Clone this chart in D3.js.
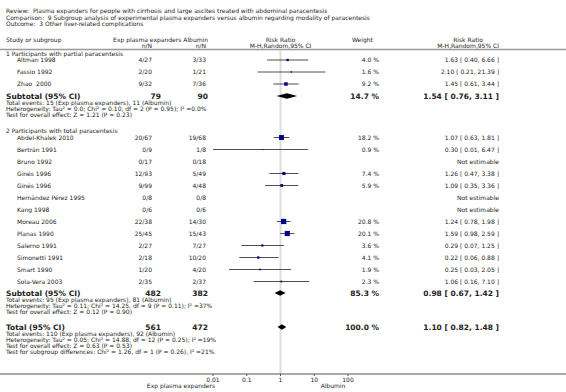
<!DOCTYPE html>
<html>
<head>
<meta charset="utf-8">
<script src="https://cdn.jsdelivr.net/npm/d3@7"></script>
<style>
  body { margin: 0; background: #fff; }
  text { font-family: "DejaVu Sans", Verdana, sans-serif; fill: #222; white-space: pre; }
</style>
</head>
<body>
<div id="chart"></div>
<script>
// Header lines
const titleLines = [
  "Review:  Plasma expanders for people with cirrhosis and large ascites treated with abdominal paracentesis",
  "Comparison:  9 Subgroup analysis of experimental plasma expanders versus albumin regarding modality of paracentesis",
  "Outcome:  3 Other liver-related complications"
];

// Subgroup 1 studies
const g1Names = ["Altman 1998", "Fassio 1992", "Zhao  2000"];
const g1Exp = ["4/27", "2/20", "9/32"];
const g1Alb = ["3/33", "1/21", "7/36"];
const g1Weight = [4.0, 1.6, 9.2];
const g1RR = [[1.63, 0.40, 6.66], [2.10, 0.21, 21.39], [1.45, 0.61, 3.44]];

// Subgroup 2 studies
const g2Names = ["Abdel-Khalek 2010", "Bertrán 1991", "Bruno 1992", "Ginés 1996", "Ginés 1996",
  "Hernández Pérez 1995", "Kang 1998", "Moreau 2006", "Planas 1990", "Salerno 1991",
  "Simonetti 1991", "Smart 1990", "Sola-Vera 2003"];
const g2Exp = ["20/67", "0/9", "0/17", "12/93", "9/99", "0/8", "0/6", "22/38", "25/45", "2/27", "2/18", "1/20", "2/35"];
const g2Alb = ["19/68", "1/8", "0/18", "5/49", "4/48", "0/8", "0/6", "14/30", "15/43", "7/27", "10/20", "4/20", "2/37"];
const g2Weight = [18.2, 0.9, null, 7.4, 5.9, null, null, 20.8, 20.1, 3.6, 4.1, 1.9, 2.3];
const g2RR = [[1.07, 0.63, 1.81], [0.30, 0.01, 6.47], null, [1.26, 0.47, 3.38], [1.09, 0.35, 3.36],
  null, null, [1.24, 0.78, 1.98], [1.59, 0.98, 2.59], [0.29, 0.07, 1.25], [0.22, 0.06, 0.88],
  [0.25, 0.03, 2.05], [1.06, 0.16, 7.10]];

// Pooled results: [label, exp N, alb N, weight, rr, lo, hi]
const subtotal1 = ["Subtotal (95% CI)", 79, 90, 14.7, 1.54, 0.76, 3.11];
const subtotal2 = ["Subtotal (95% CI)", 482, 382, 85.3, 0.98, 0.67, 1.42];
const total = ["Total (95% CI)", 561, 472, 100.0, 1.10, 0.82, 1.48];

const notes1 = [
  "Total events: 15 (Exp plasma expanders), 11 (Albumin)",
  "Heterogeneity: Tau² = 0.0; Chi² = 0.10, df = 2 (P = 0.95); I² =0.0%",
  "Test for overall effect: Z = 1.21 (P = 0.23)"
];
const notes2 = [
  "Total events: 95 (Exp plasma expanders), 81 (Albumin)",
  "Heterogeneity: Tau² = 0.11; Chi² = 14.25, df = 9 (P = 0.11); I² =37%",
  "Test for overall effect: Z = 0.12 (P = 0.90)"
];
const notesT = [
  "Total events: 110 (Exp plasma expanders), 92 (Albumin)",
  "Heterogeneity: Tau² = 0.05; Chi² = 14.88, df = 12 (P = 0.25); I² =19%",
  "Test for overall effect: Z = 0.63 (P = 0.53)",
  "Test for subgroup differences: Chi² = 1.26, df = 1 (P = 0.26), I² =21%"
];

const tickValues = [0.01, 0.1, 1, 10, 100];
const tickLabels = ["0.01", "0.1", "1", "10", "100"];

const W = 566, H = 392;
const fs = 6, fsB = 7.5;
const xL = 6, xName = 17, xExp = 152, xAlb = 206, xExpB = 161, xAlbB = 208;
const xW = 379, xRR = 499;
const rowH = 12, noteH = 6;

const svg = d3.select("#chart").append("svg")
  .attr("width", W).attr("height", H);

const x = d3.scaleLog().domain([0.01, 100]).range([213, 348]);

function txt(xx, yy, s, opt = {}) {
  return svg.append("text")
    .attr("x", xx).attr("y", yy)
    .attr("font-size", opt.size || fs)
    .attr("font-weight", opt.bold ? "bold" : null)
    .attr("text-anchor", opt.anchor || "start")
    .text(s);
}

// top title
titleLines.forEach((t, i) => txt(xL, 13 + i * 6.7, t));

// column headers
txt(xL, 41.5, "Study or subgroup");
txt(xAlb + 2, 41.5, "Exp plasma expanders Albumin", { anchor: "end" });
txt(xExp, 47.5, "n/N", { anchor: "end" });
txt(xAlb, 47.5, "n/N", { anchor: "end" });
txt(x(1), 41.5, "Risk Ratio", { anchor: "middle" });
txt(x(1), 47.5, "M-H,Random,95% CI", { anchor: "middle" });
txt(352, 41.5, "Weight");
txt(xRR - 31, 41.5, "Risk Ratio", { anchor: "middle" });
txt(xRR, 47.5, "M-H,Random,95% CI", { anchor: "end" });

// header rule and reference line
svg.append("line").attr("x1", 0).attr("x2", W).attr("y1", 49.5).attr("y2", 49.5)
  .attr("stroke", "#999").attr("stroke-width", 1.5);
svg.append("line").attr("x1", x(1)).attr("x2", x(1)).attr("y1", 50).attr("y2", 374)
  .attr("stroke", "#ddd").attr("stroke-width", 2);

const fmt = d3.format(".2f");
const rrText = r => r ? `${fmt(r[0])} [ ${fmt(r[1])}, ${fmt(r[2])} ]` : "Not estimable";

function studyRows(y0, names, exp, alb, weight, rr) {
  names.forEach((n, i) => {
    const y = y0 + i * rowH;
    txt(xName, y + 2.2, n);
    txt(xExp, y + 2.2, exp[i], { anchor: "end" });
    txt(xAlb, y + 2.2, alb[i], { anchor: "end" });
    if (weight[i] != null) txt(xW, y + 2.2, weight[i].toFixed(1) + " %", { anchor: "end" });
    txt(xRR, y + 2.2, rrText(rr[i]), { anchor: "end" });
    if (rr[i]) {
      svg.append("line").attr("x1", x(rr[i][1])).attr("x2", x(rr[i][2]))
        .attr("y1", y).attr("y2", y).attr("stroke", "#222").attr("stroke-width", 0.8);
      const s = 1.15 * Math.sqrt(weight[i]);
      svg.append("rect").attr("x", x(rr[i][0]) - s / 2).attr("y", y - s / 2)
        .attr("width", s).attr("height", s).attr("fill", "#00008b");
    }
  });
}

function pooledRow(y, p, notes) {
  txt(xL, y + 2.8, p[0], { bold: true, size: fsB });
  txt(xExpB, y + 2.8, p[1], { bold: true, size: fsB, anchor: "end" });
  txt(xAlbB, y + 2.8, p[2], { bold: true, size: fsB, anchor: "end" });
  txt(xW, y + 2.8, p[3].toFixed(1) + " %", { bold: true, size: fsB, anchor: "end" });
  txt(xRR, y + 2.8, rrText([p[4], p[5], p[6]]), { bold: true, size: fsB, anchor: "end" });
  const h = 2.8;
  svg.append("path")
    .attr("d", `M${x(p[5])},${y} L${x(p[4])},${y - h} L${x(p[6])},${y} L${x(p[4])},${y + h} Z`)
    .attr("fill", "#000");
  notes.forEach((t, i) => txt(xL, y + 9.4 + i * noteH, t));
}

// subgroup 1
txt(xL, 55.8, "1 Participants with partial paracentesis");
studyRows(60, g1Names, g1Exp, g1Alb, g1Weight, g1RR);
pooledRow(96, subtotal1, notes1);

// subgroup 2
txt(xL, 133, "2 Participants with total paracentesis");
studyRows(137.5, g2Names, g2Exp, g2Alb, g2Weight, g2RR);
pooledRow(293, subtotal2, notes2);

// overall
pooledRow(327, total, notesT);

// axis
const axisY = 374;
svg.append("line").attr("x1", 0).attr("x2", W).attr("y1", axisY).attr("y2", axisY)
  .attr("stroke", "#555").attr("stroke-width", 1);
tickValues.forEach((v, i) => {
  svg.append("line").attr("x1", x(v)).attr("x2", x(v)).attr("y1", axisY).attr("y2", axisY + 2)
    .attr("stroke", "#555");
  txt(x(v), axisY + 7.5, tickLabels[i], { anchor: "middle" });
});
txt(181, 387.5, "Exp plasma expanders", { anchor: "middle" });
txt(333, 387.5, "Albumin", { anchor: "middle" });
</script>
</body>
</html>
